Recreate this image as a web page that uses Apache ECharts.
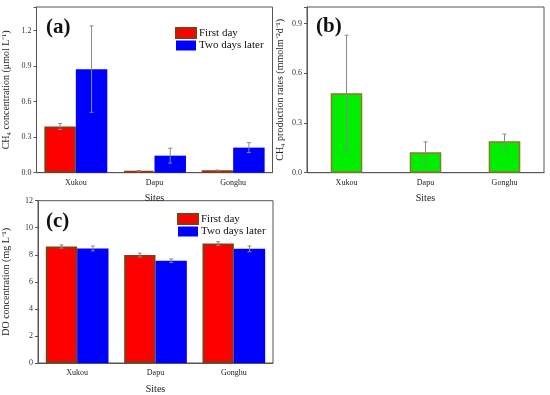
<!DOCTYPE html>
<html>
<head>
<meta charset="utf-8">
<script src="https://cdn.jsdelivr.net/npm/echarts@6/dist/echarts.min.js"></script>
<style>html,body{margin:0;padding:0;background:#fff}#c{width:550px;height:395px}</style>
</head>
<body>
<div id="c"></div>
<script>
var sites = ['Xukou', 'Dapu', 'Gonghu'];
var seriesNames = ['First day', 'Two days later'];
// (a) CH4 concentration
var ch4First = [0.39, 0.015, 0.02];
var ch4FirstErr = [0.025, 0.003, 0.003];
var ch4Later = [0.875, 0.144, 0.212];
var ch4LaterErr = [0.365, 0.063, 0.042];
// (b) CH4 production rates
var prodRate = [0.48, 0.123, 0.19];
var prodErr = [0.35, 0.063, 0.043];
// (c) DO concentration
var doFirst = [8.61, 7.98, 8.83];
var doFirstErr = [0.12, 0.14, 0.14];
var doLater = [8.47, 7.56, 8.44];
var doLaterErr = [0.18, 0.13, 0.21];
var yTicksA = [0, 0.3, 0.6, 0.9, 1.2];
var yTicksB = [0, 0.3, 0.6, 0.9];
var yTicksC = [0, 2, 4, 6, 8, 10, 12];

var FONT = 'Liberation Serif';
var RED = '#ff0000', BLUE = '#0000ff', GREEN = '#00ee00';
var BROWN = '#8b3a0f', OLIVE = '#8b7a2a';
var AX = '#555';

function errSeries(name, xi, yi, vals, errs, offsetFrac) {
  var data = vals.map(function (v, i) { return [i, v - errs[i], v + errs[i]]; });
  return {
    type: 'custom', name: name + ' err', xAxisIndex: xi, yAxisIndex: yi, z: 10,
    silent: true, legendHoverLink: false,
    renderItem: function (params, api) {
      var band = api.size([1, 0])[0];
      var lo = api.coord([api.value(0), api.value(1)]);
      var hi = api.coord([api.value(0), api.value(2)]);
      var x = lo[0] + band * offsetFrac;
      var cap = 2;
      var st = { stroke: '#888', lineWidth: 1 };
      return { type: 'group', children: [
        { type: 'line', shape: { x1: x, y1: lo[1], x2: x, y2: hi[1] }, style: st },
        { type: 'line', shape: { x1: x - cap, y1: hi[1], x2: x + cap, y2: hi[1] }, style: st },
        { type: 'line', shape: { x1: x - cap, y1: lo[1], x2: x + cap, y2: lo[1] }, style: st }
      ]};
    },
    data: data
  };
}

function xAx(gi) {
  return {
    type: 'category', gridIndex: gi, data: sites,
    name: 'Sites', nameLocation: 'middle', nameGap: 21,
    nameTextStyle: { fontFamily: FONT, fontSize: 10, color: '#222' },
    axisLine: { lineStyle: { color: AX, width: 1 } },
    axisTick: { alignWithLabel: true, length: 3, lineStyle: { color: AX } },
    axisLabel: { fontFamily: FONT, fontSize: 8, color: '#222', margin: 6 },
    splitLine: { show: false }
  };
}
function yAx(gi, max, interval, ticks, dec, name, gap) {
  return {
    type: 'value', gridIndex: gi, min: 0, max: max, interval: interval,
    name: name, nameLocation: 'middle', nameGap: gap, nameRotate: 90,
    nameTextStyle: { fontFamily: FONT, fontSize: 10, color: '#222' },
    axisLine: { show: true, lineStyle: { color: AX, width: 1 } },
    axisTick: { show: true, length: 3, lineStyle: { color: AX } },
    axisLabel: {
      fontFamily: FONT, fontSize: 8, color: '#333', margin: 5, showMaxLabel: true,
      formatter: function (v) {
        for (var i = 0; i < ticks.length; i++) if (Math.abs(ticks[i] - v) < 1e-9) return v.toFixed(dec);
        return '';
      }
    },
    splitLine: { show: false }
  };
}

var chart = echarts.init(document.getElementById('c'));
var barBase = { type: 'bar', barGap: '0%', barCategoryGap: '20%' };
function bar(name, xi, yi, data, color, border) {
  return Object.assign({}, barBase, {
    name: name, xAxisIndex: xi, yAxisIndex: yi, data: data,
    itemStyle: { color: color, borderColor: border, borderWidth: border ? 2 : 0 }
  });
}

chart.setOption({
  animation: false,
  backgroundColor: '#fff',
  title: [
    { text: '(a)', left: 41, top: 12, textStyle: { fontFamily: FONT, fontSize: 21, fontWeight: 'bold', color: '#111' } },
    { text: '(b)', left: 311, top: 11, textStyle: { fontFamily: FONT, fontSize: 21, fontWeight: 'bold', color: '#111' } },
    { text: '(c)', left: 41, top: 206, textStyle: { fontFamily: FONT, fontSize: 21, fontWeight: 'bold', color: '#111' } }
  ],
  legend: [
    { data: seriesNames, left: 170, top: 22, orient: 'vertical', itemWidth: 20, itemHeight: 10, itemGap: 1,
      icon: 'rect', textStyle: { fontFamily: FONT, fontSize: 11, color: '#111', padding: [0, 0, 0, -2] } },
    { data: seriesNames, left: 172, top: 208, orient: 'vertical', itemWidth: 20, itemHeight: 10, itemGap: 1,
      icon: 'rect', textStyle: { fontFamily: FONT, fontSize: 11, color: '#111', padding: [0, 0, 0, -2] } }
  ],
  grid: [
    { left: 36.5, top: 7, width: 236, height: 165.7, show: true, borderColor: AX, borderWidth: 1, containLabel: false },
    { left: 307, top: 7, width: 237, height: 165.7, show: true, borderColor: AX, borderWidth: 1, containLabel: false },
    { left: 37, top: 200.7, width: 236, height: 165, show: true, borderColor: AX, borderWidth: 1, containLabel: false }
  ],
  xAxis: [xAx(0), xAx(1), xAx(2)],
  yAxis: [
    yAx(0, 1.4, 0.3, yTicksA, 1, 'CH\u2084 concentration (\u03bcmol L\u207b\u00b9)', 25),
    yAx(1, 1.0, 0.3, yTicksB, 1, 'CH\u2084 production rates (mmolm\u207b\u00b2d\u207b\u00b9)', 22),
    yAx(2, 12, 2, yTicksC, 0, 'DO concentration (mg L\u207b\u00b9)', 27)
  ],
  series: [
    bar(seriesNames[0], 0, 0, ch4First, RED, BROWN),
    bar(seriesNames[1], 0, 0, ch4Later, BLUE, null),
    Object.assign({}, barBase, { name: 'Production rate', xAxisIndex: 1, yAxisIndex: 1, data: prodRate, barWidth: '40%',
      itemStyle: { color: GREEN, borderColor: OLIVE, borderWidth: 1.5 } }),
    bar(seriesNames[0], 2, 2, doFirst, RED, BROWN),
    bar(seriesNames[1], 2, 2, doLater, BLUE, null),
    errSeries('a1', 0, 0, ch4First, ch4FirstErr, -0.2),
    errSeries('a2', 0, 0, ch4Later, ch4LaterErr, 0.2),
    errSeries('b', 1, 1, prodRate, prodErr, 0),
    errSeries('c1', 2, 2, doFirst, doFirstErr, -0.2),
    errSeries('c2', 2, 2, doLater, doLaterErr, 0.2)
  ]
});
</script>
</body>
</html>
